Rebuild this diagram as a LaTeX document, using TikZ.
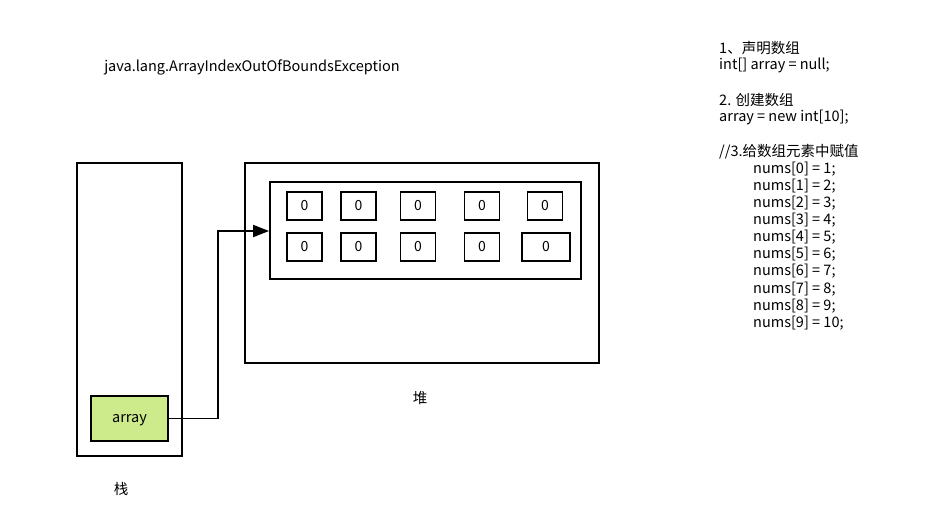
\documentclass[tikz,border=0pt]{standalone}
\usepackage{fontspec}
\setmainfont{Noto Sans CJK SC}
\usetikzlibrary{arrows.meta}

\tikzset{
  frame/.style={draw, line width=1.9pt, inner sep=0pt},
  cell/.style={frame, minimum width=35pt, minimum height=28pt, font=\fontsize{14}{16}\selectfont},
  code/.style={anchor=west, inner sep=0pt, font=\fontsize{14.5}{17}\selectfont}
}

\begin{document}
\begin{tikzpicture}[x=1pt, y=-1pt]
    \useasboundingbox (0,0) rectangle (925,506);

    % title of the error
    \node[code, anchor=center] (err) at (252, 67) {java.lang.ArrayIndexOutOfBoundsException};

    % stack
    \node[frame, minimum width=105pt, minimum height=293pt] (stack) at (129.5, 309.5) {};
    \node[frame, fill={rgb,255:red,205;green,235;blue,139}, minimum width=77pt, minimum height=45pt,
          text height=1.6ex, text depth=.2ex, font=\fontsize{14.5}{17}\selectfont] (arr) at (129.5, 418.5) {array};
    \node[code, anchor=center] (stacklbl) at (121, 489) {栈};

    % heap
    \node[frame, minimum width=354pt, minimum height=200pt] (heap) at (422, 263) {};
    \node[frame, minimum width=311pt, minimum height=97pt] (inner) at (425.5, 230.5) {};
    \node[code, anchor=center] (heaplbl) at (420, 398) {堆};

    % array cells
    \foreach \x [count=\i] in {304.5, 358.5, 418, 482, 545}
      \node[cell] (a\i) at (\x, 206) {0};
    \foreach \x [count=\i from 6] in {304.5, 358.5, 418, 482}
      \node[cell] (a\i) at (\x, 247) {0};
    \node[cell, minimum width=48pt] (a10) at (546, 247) {0};

    % reference from stack to heap
    \coordinate (turn) at (218, 231);
    \draw[line width=1.9pt, -{Triangle[length=16pt, width=12pt]}] (arr.east) -| (turn) -- (turn -| inner.west);

    % code notes
    \node[code] (n1) at (719, 48) {1、声明数组};
    \node[code] (n2) at (719, 65) {int[] array = null;};
    \node[code] (n3) at (719, 100) {2. 创建数组};
    \node[code] (n4) at (719, 117) {array = new int[10];};
    \node[code] (n5) at (719, 152) {//3.给数组元素中赋值};
    \foreach \k in {0,...,9}
      \node[code] (m\k) at (753, 169+17.1*\k) {nums[\k] = \the\numexpr\k+1\relax;};
\end{tikzpicture}
\end{document}
